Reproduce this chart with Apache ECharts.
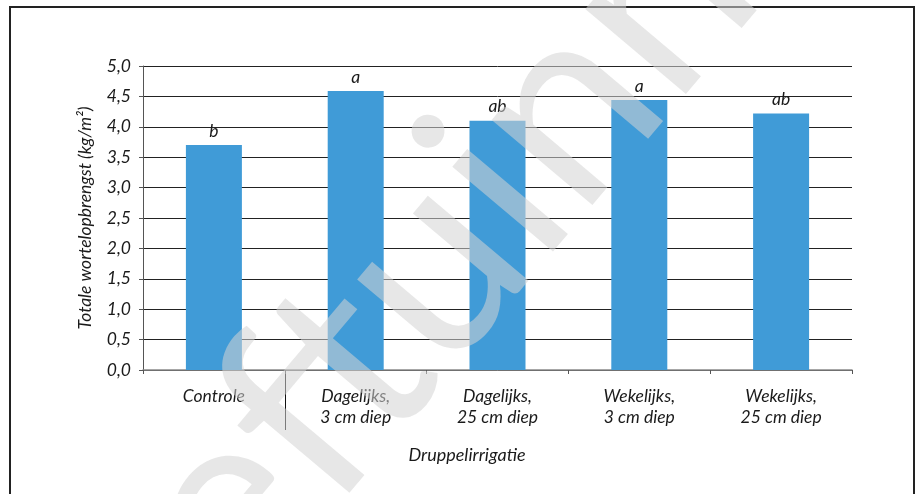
<!DOCTYPE html>
<html>
<head>
<meta charset="utf-8">
<script src="https://cdn.jsdelivr.net/npm/echarts@6/dist/echarts.min.js"></script>
<style>
  html, body { margin: 0; padding: 0; background: #fff; }
  #chart { width: 917px; height: 494px; }
</style>
</head>
<body>
<div id="chart"></div>
<script>
// Totale wortelopbrengst per behandeling
const categories = [
  'Controle',
  'Dagelijks,\n3 cm diep',
  'Dagelijks,\n25 cm diep',
  'Wekelijks,\n3 cm diep',
  'Wekelijks,\n25 cm diep'
];
const yieldValues = [3.70, 4.59, 4.10, 4.44, 4.22];
const significance = ['b', 'a', 'ab', 'a', 'ab'];
const groupLabel = 'Druppelirrigatie';
const yAxisTitle = 'Totale wortelopbrengst (kg/m²)';
const watermarkText = 'Proeftuinnieuws';

const FONT = 'Lato, "Open Sans", sans-serif';
const TEXT = '#1a1a1a';
const FS = 17.5;

const chart = echarts.init(document.getElementById('chart'), null, { renderer: 'canvas' });

const option = {
  backgroundColor: '#fff',
  animation: false,
  grid: { left: 143, right: 65, top: 66, bottom: 124, containLabel: false },
  xAxis: {
    type: 'category',
    data: categories,
    axisLine: { lineStyle: { color: '#8a8a8a', width: 1.5 } },
    axisTick: { show: true, length: 4, alignWithLabel: false, lineStyle: { color: '#555' } },
    axisLabel: {
      margin: 16,
      fontFamily: FONT,
      fontStyle: 'italic',
      fontSize: FS,
      lineHeight: 21,
      color: TEXT,
      interval: 0
    }
  },
  yAxis: {
    type: 'value',
    min: 0,
    max: 5,
    interval: 0.5,
    name: yAxisTitle,
    nameLocation: 'middle',
    nameGap: 49,
    nameTextStyle: { fontFamily: FONT, fontStyle: 'italic', fontSize: 17.5, color: TEXT },
    axisLine: { show: true, lineStyle: { color: '#555' } },
    axisTick: { show: true, length: 4, lineStyle: { color: '#555' } },
    axisLabel: {
      margin: 12,
      fontFamily: FONT,
      fontStyle: 'italic',
      fontSize: FS,
      color: TEXT,
      formatter: v => v.toFixed(1).replace('.', ',')
    },
    splitLine: { lineStyle: { color: '#222', width: 1 } }
  },
  series: [{
    type: 'bar',
    data: yieldValues,
    barWidth: 56,
    itemStyle: { color: '#409bd7' },
    label: {
      show: true,
      position: 'top',
      distance: 5,
      fontFamily: FONT,
      fontStyle: 'italic',
      fontSize: FS,
      color: TEXT,
      formatter: p => significance[p.dataIndex]
    }
  }]
};

chart.setOption(option);

// Group divider and group label placed from the category axis scale
const xa = i => chart.convertToPixel({ xAxisIndex: 0 }, i);
const y0 = chart.convertToPixel({ yAxisIndex: 0 }, 0);
const divX = Math.round((xa(0) + xa(1)) / 2) + 0.5;

chart.setOption({
  graphic: [
    {
      type: 'rect',
      shape: { x: 10, y: 7, width: 904, height: 520 },
      style: { fill: 'none', stroke: '#222', lineWidth: 2 },
      silent: true,
      z: 0
    },
    {
      type: 'line',
      shape: { x1: divX, y1: y0, x2: divX, y2: y0 + 60 },
      style: { stroke: '#111', lineWidth: 1 },
      silent: true
    },
    {
      type: 'text',
      x: 467,
      y: 455,
      style: {
        text: groupLabel,
        fontFamily: FONT,
        fontStyle: 'italic',
        fontSize: 18,
        fill: TEXT,
        textAlign: 'center',
        textVerticalAlign: 'middle'
      },
      silent: true
    },
    {
      // diagonal watermark across the plot
      type: 'text',
      x: 529,
      y: 150,
      rotation: 0.87,
      style: {
        text: watermarkText,
        fontFamily: 'Lato, sans-serif',
        fontWeight: 'normal',
        fontSize: 260,
        fill: 'rgba(212,212,212,0.55)',
        textAlign: 'center',
        textVerticalAlign: 'middle'
      },
      silent: true,
      z: 100
    }
  ]
});
</script>
</body>
</html>
